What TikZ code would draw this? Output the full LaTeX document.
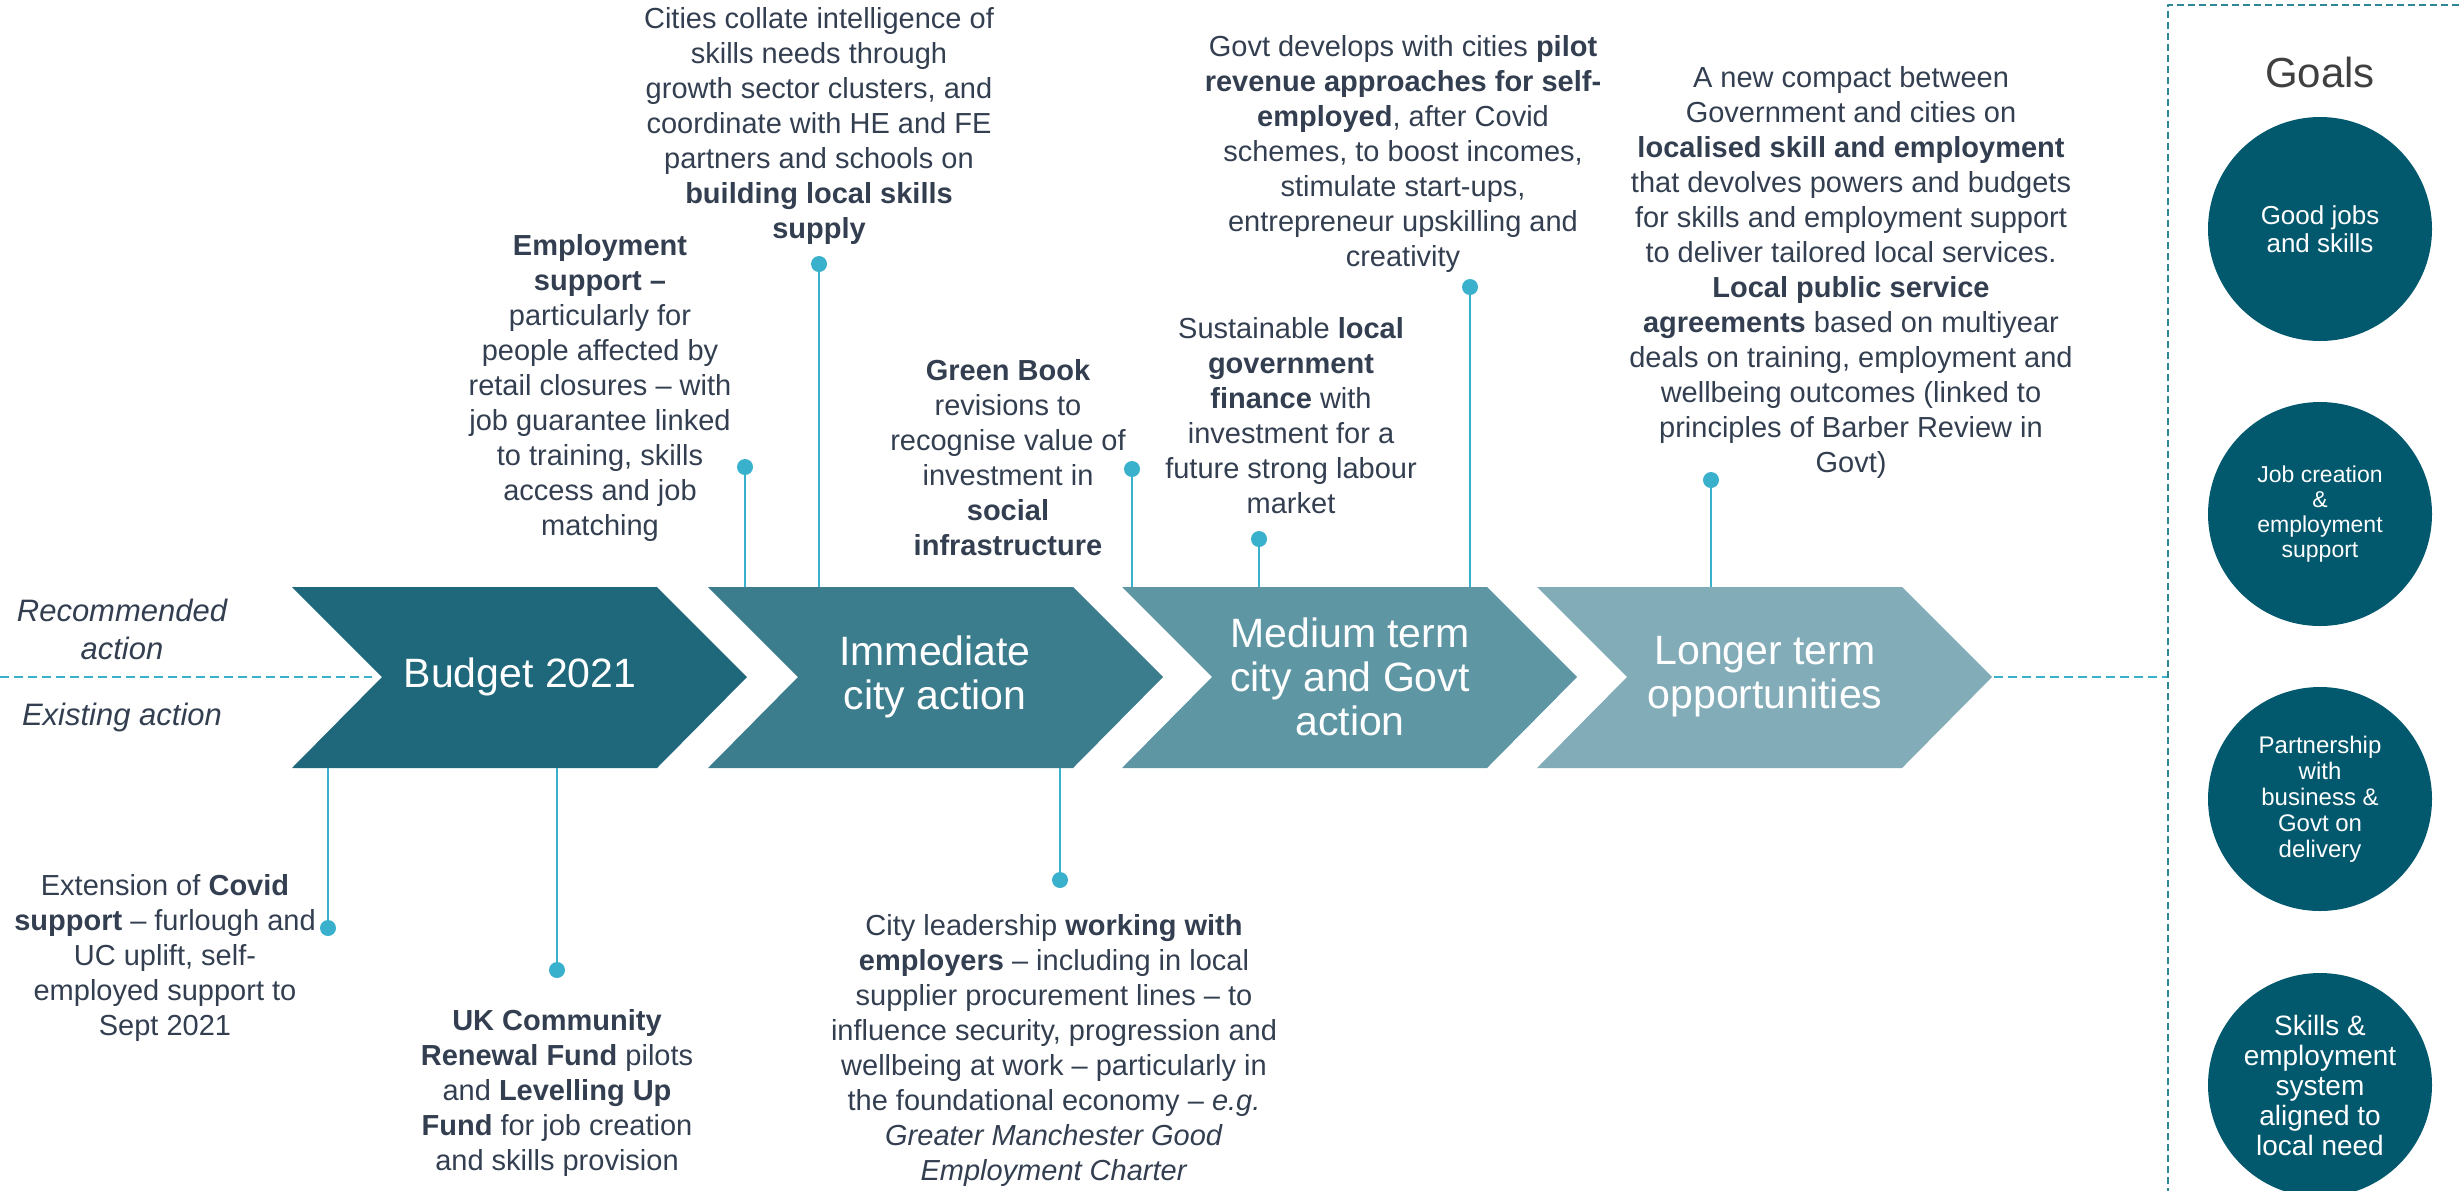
\documentclass[tikz,border=0pt]{standalone}
\usepackage{fontspec}
\setmainfont{Liberation Sans}
\usepackage{tikz}
\usetikzlibrary{positioning,shapes,calc,arrows}

\definecolor{budgetcol}{RGB}{31,104,124}
\definecolor{immcol}{RGB}{60,125,141}
\definecolor{medcol}{RGB}{94,150,164}
\definecolor{longcol}{RGB}{131,172,185}
\definecolor{goalcol}{RGB}{2,88,109}
\definecolor{pincol}{RGB}{58,177,204}
\definecolor{notecol}{RGB}{51,63,80}
\definecolor{boxcol}{RGB}{46,135,151}
\definecolor{goalsgray}{RGB}{64,64,64}

\begin{document}
\begin{tikzpicture}[x=1bp,y=-1bp,line join=bevel,
    stagetxt/.style={text=white,align=center,font=\fontsize{41bp}{44bp}\selectfont},
    notetxt/.style={text=notecol,align=center,inner sep=0pt,font=\fontsize{29bp}{35bp}\selectfont},
    sidetxt/.style={text=notecol,align=center,inner sep=0pt,font=\fontsize{31bp}{38bp}\selectfont\itshape},
    pindot/.style={circle,fill=pincol,inner sep=0pt,minimum size=16bp},
    pinline/.style={draw=pincol,line width=2.5bp},
    timeline/.style={draw=pincol,line width=2.5bp,dash pattern=on 9bp off 5bp},
    goalbox/.style={draw=boxcol,line width=2.5bp,dash pattern=on 7bp off 4bp},
    goal/.style={circle,fill=goalcol,text=white,align=center,inner sep=0pt,minimum size=224bp}]
  \useasboundingbox (0,0) rectangle (2461,1190);
  %%
  % Chevron: Budget 2021
  \fill[budgetcol] (292,587) -- (657,587) -- (747,677) -- (657,768) -- (292,768) -- (382,677) -- cycle;
  \node[stagetxt] (budget) at (520,677) {Budget 2021};
  % Chevron: Immediate city action
  \fill[immcol] (708,587) -- (1073,587) -- (1163,677) -- (1073,768) -- (708,768) -- (798,677) -- cycle;
  \node[stagetxt] (immediate) at (935,677) {Immediate\\city action};
  % Chevron: Medium term
  \fill[medcol] (1122,587) -- (1487,587) -- (1577,677) -- (1487,768) -- (1122,768) -- (1212,677) -- cycle;
  \node[stagetxt] (medium) at (1350,677) {Medium term\\city and Govt\\action};
  % Chevron: Longer term
  \fill[longcol] (1537,587) -- (1902,587) -- (1992,677) -- (1902,768) -- (1537,768) -- (1627,677) -- cycle;
  \node[stagetxt] (longer) at (1765,677) {Longer term\\opportunities};
  %
  % Timeline and goals frame
  \coordinate (lineL) at (0,677);
  \coordinate (notch) at (372,677);
  \coordinate (tipR) at (1994,677);
  \coordinate (frameL) at (2168,677);
  \draw[timeline] (lineL) -- (notch);
  \draw[timeline] (tipR) -- (frameL);
  \draw[goalbox] (2168,1250) -- (2168,5) -- (2520,5);
  \node[sidetxt] (recommended) at (122,629) {Recommended\\action};
  \node[sidetxt] (existing) at (122,717) {Existing action};
  %
  % Notes above the timeline
  \node[notetxt] (empsupport) at (600,388) {\textbf{Employment}\\\textbf{support –}\\particularly for\\people affected by\\retail closures – with\\job guarantee linked\\to training, skills\\access and job\\matching};
  \node[notetxt] (collate) at (819,126) {Cities collate intelligence of\\skills needs through\\growth sector clusters, and\\coordinate with HE and FE\\partners and schools on\\\textbf{building local skills}\\\textbf{supply}};
  \node[notetxt] (greenbook) at (1008,458) {\textbf{Green Book}\\revisions to\\recognise value of\\investment in\\\textbf{social}\\\textbf{infrastructure}};
  \node[notetxt] (localfin) at (1291,416) {Sustainable \textbf{local}\\\textbf{government}\\\textbf{finance} with\\investment for a\\future strong labour\\market};
  \node[notetxt] (selfemp) at (1403,154) {Govt develops with cities \textbf{pilot}\\\textbf{revenue approaches for self-}\\\textbf{employed}, after Covid\\schemes, to boost incomes,\\stimulate start-ups,\\entrepreneur upskilling and\\creativity};
  \node[notetxt] (compact) at (1851,272) {A new compact between\\Government and cities on\\\textbf{localised skill and employment}\\that devolves powers and budgets\\for skills and employment support\\to deliver tailored local services.\\\textbf{Local public service}\\\textbf{agreements} based on multiyear\\deals on training, employment and\\wellbeing outcomes (linked to\\principles of Barber Review in\\Govt)};
  % Notes below the timeline
  \node[notetxt] (covid) at (165,958) {Extension of \textbf{Covid}\\\textbf{support} – furlough and\\UC uplift, self-\\employed support to\\Sept 2021};
  \node[notetxt] (renewal) at (557,1093) {\textbf{UK Community}\\\textbf{Renewal Fund} pilots\\and \textbf{Levelling Up}\\\textbf{Fund} for job creation\\and skills provision};
  \node[notetxt] (employers) at (1054,1050) {City leadership \textbf{working with}\\\textbf{employers} – including in local\\supplier procurement lines – to\\influence security, progression and\\wellbeing at work – particularly in\\the foundational economy – \textit{e.g.}\\\textit{Greater Manchester Good}\\\textit{Employment Charter}};
  %
  % Pins
  \coordinate (eA) at (745,587);
  \node[pindot] (dA) at (745,467) {};
  \draw[pinline] (dA) -- (eA);
  \coordinate (eB) at (819,587);
  \node[pindot] (dB) at (819,264) {};
  \draw[pinline] (dB) -- (eB);
  \coordinate (eC) at (1132,587);
  \node[pindot] (dC) at (1132,469) {};
  \draw[pinline] (dC) -- (eC);
  \coordinate (eD) at (1259,587);
  \node[pindot] (dD) at (1259,539) {};
  \draw[pinline] (dD) -- (eD);
  \coordinate (eE) at (1470,587);
  \node[pindot] (dE) at (1470,287) {};
  \draw[pinline] (dE) -- (eE);
  \coordinate (eF) at (1711,587);
  \node[pindot] (dF) at (1711,480) {};
  \draw[pinline] (dF) -- (eF);
  \coordinate (eG) at (328,768);
  \node[pindot] (dG) at (328,928) {};
  \draw[pinline] (dG) -- (eG);
  \coordinate (eH) at (557,768);
  \node[pindot] (dH) at (557,970) {};
  \draw[pinline] (dH) -- (eH);
  \coordinate (eI) at (1060,768);
  \node[pindot] (dI) at (1060,880) {};
  \draw[pinline] (dI) -- (eI);
  %
  % Goals
  \node[text=goalsgray,font=\fontsize{42bp}{48bp}\selectfont] (goals) at (2320,72) {Goals};
  \node[goal,font=\fontsize{26bp}{28bp}\selectfont] (goodjobs) at (2320,229) {Good jobs\\and skills};
  \node[goal,font=\fontsize{23bp}{25bp}\selectfont] (jobcreation) at (2320,514) {Job creation\\\&\\employment\\support};
  \node[goal,font=\fontsize{24bp}{26bp}\selectfont] (partnership) at (2320,799) {Partnership\\with\\business \&\\Govt on\\delivery};
  \node[goal,font=\fontsize{28bp}{30bp}\selectfont] (skillsys) at (2320,1085) {Skills \&\\employment\\system\\aligned to\\local need};
  %
\end{tikzpicture}
\end{document}
